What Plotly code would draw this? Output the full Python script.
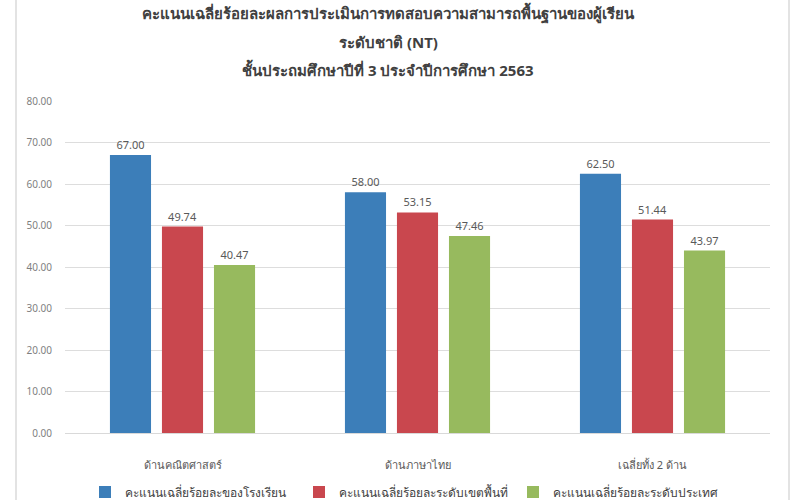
import plotly.graph_objects as go

categories = ["ด้านคณิตศาสตร์", "ด้านภาษาไทย", "เฉลี่ยทั้ง 2 ด้าน"]
series_names = ["คะแนนเฉลี่ยร้อยละของโรงเรียน", "คะแนนเฉลี่ยร้อยละระดับเขตพื้นที่", "คะแนนเฉลี่ยร้อยละระดับประเทศ"]
school = [67.00, 58.00, 62.50]
district = [49.74, 53.15, 51.44]
national = [40.47, 47.46, 43.97]
colors = ["#3C7EB9", "#C9474E", "#97BA5E"]
tick_vals = [0, 10, 20, 30, 40, 50, 60, 70, 80]

FONT = "Tahoma, 'Noto Sans', 'DejaVu Sans', sans-serif"
GRAY = "#595959"

W, H = 800, 500

fig = go.Figure()
for name, vals, col in zip(series_names, [school, district, national], colors):
    fig.add_trace(go.Bar(
        x=categories, y=vals, name=name,
        marker=dict(color=col, line=dict(width=0)),
        text=[f"{v:.2f}" for v in vals], textposition="outside",
        textfont=dict(size=11, color=GRAY, family=FONT),
        cliponaxis=False,
    ))

fig.update_layout(
    width=W, height=H,
    margin=dict(l=65, r=30, t=101, b=67, autoexpand=False),
    paper_bgcolor="white", plot_bgcolor="white",
    barmode="group", bargap=0.336, bargroupgap=0.21,
    font=dict(family=FONT, color=GRAY),
    showlegend=True,
    legend=dict(orientation="h", xref="container", yref="container",
                x=85 / W, y=8 / H, xanchor="left", yanchor="middle",
                font=dict(size=12, color="#404040", family=FONT),
                entrywidth=169, entrywidthmode="pixels"),
)
fig.update_yaxes(range=[0, 80], tickvals=tick_vals, ticktext=[f"{v:.2f}" for v in tick_vals],
                 showgrid=True, gridcolor="#DDDDDD", gridwidth=1, zeroline=False,
                 showline=False, tickfont=dict(size=10, color="#7f7f7f"), ticks="",
                 ticklabelstandoff=12, automargin=False)
fig.update_xaxes(showline=True, linecolor="#D9D9D9", linewidth=1, ticks="",
                 tickfont=dict(size=11, color=GRAY), ticklabelstandoff=22, automargin=False)

# title lines
titles = [("คะแนนเฉลี่ยร้อยละผลการประเมินการทดสอบความสามารถพื้นฐานของผู้เรียน", 13),
          ("ระดับชาติ (NT)", 42),
          ("ชั้นประถมศึกษาปีที่ 3 ประจำปีการศึกษา 2563", 70)]
for txt, ypx in titles:
    fig.add_annotation(text=f"<b>{txt}</b>", xref="paper", yref="paper",
                       x=(388 - 65) / 705, y=(433 - ypx) / 332, showarrow=False,
                       xanchor="center", yanchor="middle",
                       font=dict(size=15, color="#404040", family=FONT))

# frame lines
for xpx in (16, 789):
    xp = (xpx - 65) / 705
    fig.add_shape(type="line", xref="paper", yref="paper", x0=xp, x1=xp,
                  y0=(433 - 500) / 332, y1=433 / 332,
                  line=dict(color="#E3E3E3", width=2), layer="above")

fig.write_html("out.html", config={"displayModeBar": False},
               post_script="document.body.style.margin='0';")
